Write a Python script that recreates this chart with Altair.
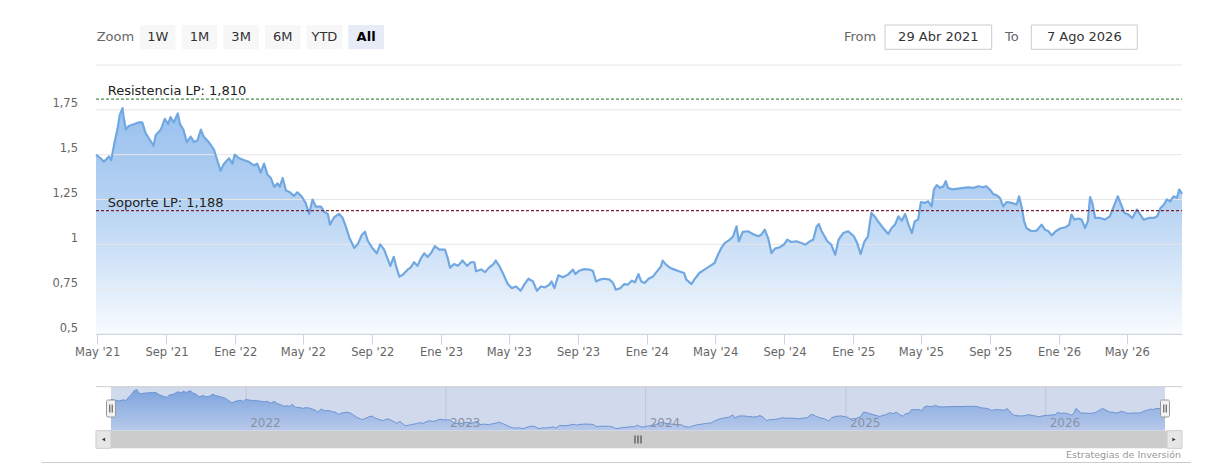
import json
import altair as alt
import pandas as pd

# ---------------- data ----------------
D2021 = ["04-29", "05-07", "05-13", "05-22", "05-26", "06-01", "06-06", "06-10", "06-15", "06-17",
         "06-21", "06-26", "07-05", "07-14", "07-20", "07-26", "08-01", "08-09", "08-13", "08-22",
         "08-29", "09-04", "09-08", "09-14", "09-21", "09-25", "10-01", "10-07", "10-14", "10-20",
         "10-26", "11-01", "11-06", "11-15", "11-24", "11-30", "12-06", "12-12", "12-21", "12-27", "12-31"]
V2021 = [1.50, 1.48, 1.46, 1.49, 1.47, 1.57, 1.64, 1.72, 1.76, 1.71,
         1.64, 1.66, 1.67, 1.68, 1.68, 1.62, 1.59, 1.55, 1.61, 1.64,
         1.70, 1.67, 1.71, 1.68, 1.73, 1.67, 1.64, 1.57, 1.60, 1.57,
         1.58, 1.64, 1.60, 1.57, 1.53, 1.47, 1.41, 1.45, 1.48, 1.45, 1.50]

D2022 = ["01-08", "01-16", "01-25", "02-03", "02-09", "02-15", "02-21", "02-27", "03-05", "03-11",
         "03-17", "03-21", "03-26", "04-01", "04-08", "04-15", "04-21", "04-28", "05-06", "05-12",
         "05-18", "05-24", "06-02", "06-08", "06-14", "06-18", "06-25", "07-04", "07-10", "07-16",
         "07-22", "07-31", "08-06", "08-13", "08-19", "08-24", "09-01", "09-09", "09-15", "09-22",
         "09-28", "10-03", "10-09", "10-13", "10-19", "10-25", "11-03", "11-08", "11-14", "11-20",
         "11-26", "12-02", "12-08", "12-14", "12-21", "12-29"]
V2022 = [1.48, 1.47, 1.46, 1.44, 1.45, 1.40, 1.45, 1.39, 1.37, 1.32,
         1.34, 1.32, 1.37, 1.30, 1.29, 1.27, 1.29, 1.27, 1.23, 1.17,
         1.25, 1.21, 1.21, 1.18, 1.17, 1.11, 1.15, 1.17, 1.15, 1.10,
         1.04, 0.98, 1.00, 1.05, 1.07, 1.02, 0.98, 0.95, 1.00, 0.97,
         0.92, 0.88, 0.93, 0.88, 0.82, 0.83, 0.86, 0.87, 0.90, 0.88,
         0.92, 0.95, 0.93, 0.95, 0.99, 0.97]

D2023 = ["01-08", "01-13", "01-17", "01-24", "01-31", "02-08", "02-16", "02-23", "03-01", "03-04",
         "03-13", "03-20", "03-27", "04-04", "04-08", "04-14", "04-22", "04-29", "05-06", "05-14",
         "05-22", "05-29", "06-05", "06-13", "06-20", "06-27", "07-04", "07-12", "07-16", "07-21",
         "07-28", "08-05", "08-14", "08-23", "08-27", "09-03", "09-12", "09-21", "09-27", "10-03",
         "10-09", "10-18", "10-27", "11-02", "11-07", "11-15", "11-22", "11-28", "12-05", "12-11",
         "12-17", "12-22", "12-28"]
V2023 = [0.97, 0.92, 0.87, 0.89, 0.88, 0.91, 0.88, 0.90, 0.90, 0.85,
         0.86, 0.845, 0.87, 0.89, 0.91, 0.88, 0.83, 0.78, 0.756, 0.765,
         0.741, 0.778, 0.808, 0.793, 0.741, 0.765, 0.76, 0.775, 0.793, 0.756,
         0.827, 0.816, 0.831, 0.859, 0.834, 0.853, 0.862, 0.859, 0.853, 0.793,
         0.803, 0.808, 0.803, 0.784, 0.747, 0.756, 0.778, 0.775, 0.797, 0.789,
         0.834, 0.793, 0.784]

D2024 = ["01-04", "01-12", "01-19", "01-26", "01-29", "02-04", "02-12", "02-19", "02-28", "03-07",
         "03-11", "03-20", "03-25", "04-03", "04-12", "04-21", "04-30", "05-06", "05-12", "05-18",
         "05-27", "06-02", "06-08", "06-12", "06-19", "06-28", "07-07", "07-16", "07-22", "07-28",
         "08-03", "08-09", "08-15", "08-23", "08-31", "09-06", "09-13", "09-22", "10-01", "10-08",
         "10-16", "10-22", "10-28", "11-01", "11-06", "11-11", "11-16", "11-23", "11-30", "12-06",
         "12-14", "12-23"]
V2024 = [0.808, 0.821, 0.849, 0.877, 0.909, 0.887, 0.868, 0.859, 0.849, 0.840,
         0.803, 0.778, 0.803, 0.840, 0.859, 0.877, 0.896, 0.942, 0.980, 1.007,
         1.026, 1.045, 1.100, 1.017, 1.069, 1.073, 1.058, 1.045, 1.054, 1.082,
         1.035, 0.951, 0.976, 0.983, 0.998, 1.026, 1.013, 1.017, 1.007, 0.998,
         1.017, 1.026, 1.100, 1.113, 1.073, 1.045, 1.017, 0.998, 0.942, 1.026,
         1.063, 1.073]

D2025 = ["01-02", "01-08", "01-14", "01-21", "01-27", "02-02", "02-08", "02-14", "02-23", "03-04",
         "03-10", "03-16", "03-22", "03-28", "04-03", "04-09", "04-15", "04-20", "04-26", "05-01",
         "05-08", "05-14", "05-20", "05-24", "05-29", "06-04", "06-10", "06-14", "06-18", "06-27",
         "07-06", "07-15", "07-24", "08-02", "08-11", "08-19", "08-25", "08-31", "09-06", "09-12",
         "09-18", "09-24", "09-30", "10-09", "10-18", "10-22", "10-27", "10-31", "11-04", "11-13",
         "11-22", "12-01", "12-07", "12-13", "12-19", "12-26"]
V2025 = [1.045, 1.007, 0.946, 1.017, 1.045, 1.175, 1.156, 1.128, 1.091, 1.058,
         1.091, 1.110, 1.156, 1.132, 1.169, 1.110, 1.063, 1.128, 1.138, 1.236,
         1.231, 1.240, 1.212, 1.306, 1.330, 1.315, 1.324, 1.352, 1.315, 1.306,
         1.311, 1.315, 1.318, 1.315, 1.324, 1.318, 1.324, 1.306, 1.281, 1.274,
         1.259, 1.212, 1.236, 1.231, 1.222, 1.268, 1.203, 1.128, 1.091, 1.073,
         1.076, 1.110, 1.082, 1.073, 1.050, 1.073]

D2026 = ["01-03", "01-12", "01-19", "01-23", "01-28", "02-04", "02-10", "02-16", "02-21", "02-25",
         "03-01", "03-06", "03-15", "03-23", "04-01", "04-07", "04-15", "04-21", "04-27", "05-04",
         "05-11", "05-19", "05-25", "05-31", "06-09", "06-18", "06-24", "06-30", "07-06", "07-11",
         "07-17", "07-23", "07-29", "08-02", "08-07"]
V2026 = [1.088, 1.095, 1.110, 1.166, 1.138, 1.144, 1.138, 1.091, 1.128, 1.263,
         1.231, 1.147, 1.147, 1.138, 1.156, 1.203, 1.268, 1.222, 1.175, 1.166,
         1.147, 1.194, 1.166, 1.138, 1.147, 1.147, 1.156, 1.203, 1.222, 1.250,
         1.240, 1.268, 1.259, 1.306, 1.281]

X_TICK_DATES = ["2021-05-01", "2021-09-01", "2022-01-01", "2022-05-01", "2022-09-01", "2023-01-01",
                "2023-05-01", "2023-09-01", "2024-01-01", "2024-05-01", "2024-09-01", "2025-01-01",
                "2025-05-01", "2025-09-01", "2026-01-01", "2026-05-01"]
X_TICK_LABELS = ["May '21", "Sep '21", "Ene '22", "May '22", "Sep '22", "Ene '23", "May '23", "Sep '23",
                 "Ene '24", "May '24", "Sep '24", "Ene '25", "May '25", "Sep '25", "Ene '26", "May '26"]
Y_TICKS = [0.5, 0.75, 1.0, 1.25, 1.5, 1.75]
Y_TICK_LABELS = ["0,5", "0,75", "1", "1,25", "1,5", "1,75"]
Y_GRID = [0.5, 0.75, 1.0, 1.25, 1.5, 1.75, 2.0]
LEVEL_VALUES = [1.810, 1.188]
LEVEL_NAMES = ["Resistencia LP: 1,810", "Soporte LP: 1,188"]
LEVEL_KINDS = ["res", "sop"]
NAV_YEARS = ["2022-01-01", "2023-01-01", "2024-01-01", "2025-01-01", "2026-01-01"]
NAV_YEAR_LABELS = ["2022", "2023", "2024", "2025", "2026"]
ZOOM_BUTTONS = ["1W", "1M", "3M", "6M", "YTD", "All"]
RANGE_FROM = "29 Abr 2021"
RANGE_TO = "7 Ago 2026"
CREDIT = "Estrategias de Inversión"

# ---------------- build tables ----------------
rows = []
for yr, ds, vs in [(2021, D2021, V2021), (2022, D2022, V2022), (2023, D2023, V2023),
                   (2024, D2024, V2024), (2025, D2025, V2025), (2026, D2026, V2026)]:
    for d, v in zip(ds, vs):
        rows.append({"date": f"{yr}-{d}", "value": v})
df = pd.DataFrame(rows)

# ---------------- layout / style ----------------
W, H = 1086, 269
FONT = "DejaVu Sans"
ONE = pd.DataFrame({"k": [0]})


def dt(s):
    y, m, d = (int(p) for p in s.split("-"))
    return alt.DateTime(year=y, month=m, date=d)


X_DOMAIN = [dt("2021-04-29"), dt("2026-08-07")]
XS = alt.Scale(domain=X_DOMAIN, nice=False)
YS = alt.Scale(domain=[0.5, 2.0], nice=False, zero=False)
NAV_L, NAV_R, NAV_T, NAV_B = 15, 1069, 321.7, 365.7
NXS = alt.Scale(domain=X_DOMAIN, range=[NAV_L, NAV_R], nice=False)
NYS = alt.Scale(domain=[0.69, 1.83], range=[NAV_B, NAV_T], nice=False, zero=False)

x_keys = [s[:7] for s in X_TICK_DATES]
x_label_expr = f"{json.dumps(X_TICK_LABELS)}[indexof({json.dumps(x_keys)}, timeFormat(datum.value, '%Y-%m'))]"
y_keys = [f"{v:g}" for v in Y_TICKS]
y_label_expr = f"{json.dumps(Y_TICK_LABELS)}[indexof({json.dumps(y_keys)}, '' + datum.value)]"


def box(x0, x1, y0, y1, **kw):
    return alt.Chart(ONE).mark_rect(**kw).encode(
        x=alt.value(x0), x2=alt.value(x1), y=alt.value(y0), y2=alt.value(y1))


def hline(x0, x1, y, **kw):
    return alt.Chart(ONE).mark_rule(**kw).encode(x=alt.value(x0), x2=alt.value(x1), y=alt.value(y))


def vline(x, y0, y1, **kw):
    return alt.Chart(ONE).mark_rule(**kw).encode(x=alt.value(x), y=alt.value(y0), y2=alt.value(y1))


def label(x, y, txt, **kw):
    return alt.Chart(ONE).mark_text(font=FONT, **kw).encode(
        x=alt.value(x), y=alt.value(y), text=alt.value(txt))


# ---------------- main panel ----------------
area = alt.Chart(df).mark_area(
    color=alt.Gradient(gradient="linear", x1=0, x2=0, y1=0, y2=1,
                       stops=[alt.GradientStop(color="#98c0ee", offset=0),
                              alt.GradientStop(color="#b8d4f3", offset=0.45),
                              alt.GradientStop(color="#f8fbff", offset=1)])
).encode(
    x=alt.X("date:T", scale=XS, title=None,
            axis=alt.Axis(values=[dt(s) for s in X_TICK_DATES], labelExpr=x_label_expr,
                          grid=False, tickSize=10, tickColor="#ccd6eb", domainColor="#ccd6eb",
                          labelColor="#666666", labelFont=FONT, labelFontSize=11.5,
                          labelPadding=2, labelFlush=False, labelOverlap=False, zindex=1)),
    y=alt.Y("value:Q", scale=YS, title=None,
            axis=alt.Axis(values=Y_TICKS, labelExpr=y_label_expr, grid=False, domain=False,
                          ticks=False, labelPadding=18.5, labelOffset=-3,
                          labelBaseline="alphabetic", labelColor="#666666", labelFont=FONT,
                          labelFontSize=11.5)),
    y2=alt.datum(0.5),
)

grid = alt.Chart(pd.DataFrame({"g": Y_GRID})).mark_rule(color="#e6e6e6", strokeWidth=1).encode(
    y=alt.Y("g:Q", scale=YS, axis=None), x=alt.value(0), x2=alt.value(W))

line = alt.Chart(df).mark_line(color="#72a8e1", strokeWidth=2.2, strokeJoin="round").encode(
    x=alt.X("date:T", scale=XS, axis=None), y=alt.Y("value:Q", scale=YS, axis=None))

lv = pd.DataFrame({"level": LEVEL_VALUES, "name": LEVEL_NAMES, "kind": LEVEL_KINDS})
level_rules = alt.Chart(lv).mark_rule(strokeDash=[3, 2], strokeWidth=1.2).encode(
    y=alt.Y("level:Q", scale=YS, axis=None), x=alt.value(0), x2=alt.value(W),
    color=alt.Color("kind:N", scale=alt.Scale(domain=LEVEL_KINDS, range=["#4f8f4f", "#7b2232"]),
                    legend=None))
level_text = alt.Chart(lv).mark_text(align="left", baseline="alphabetic", dy=-4, font=FONT,
                                     fontSize=13, color="#222222").encode(
    y=alt.Y("level:Q", scale=YS, axis=None), x=alt.value(11.7), text="name:N")

# ---------------- navigator ----------------
ny = pd.DataFrame({"year": NAV_YEARS, "lab": NAV_YEAR_LABELS})
nav_grid = alt.Chart(ny).mark_rule(color="#e2e2e2", strokeWidth=1).encode(
    x=alt.X("year:T", scale=NXS, axis=None), y=alt.value(NAV_T), y2=alt.value(NAV_B))
nav_area = alt.Chart(df).mark_area(
    color=alt.Gradient(gradient="linear", x1=0, x2=0, y1=0, y2=1,
                       stops=[alt.GradientStop(color="#86b2ea", offset=0),
                              alt.GradientStop(color="#dbe7fb", offset=1)])
).encode(x=alt.X("date:T", scale=NXS, axis=None), y=alt.Y("value:Q", scale=NYS, axis=None),
         y2=alt.datum(0.69))
nav_line = alt.Chart(df).mark_line(color="#6f9ad8", strokeWidth=1).encode(
    x=alt.X("date:T", scale=NXS, axis=None), y=alt.Y("value:Q", scale=NYS, axis=None))
nav_text = alt.Chart(ny).mark_text(align="left", baseline="alphabetic", dx=4, font=FONT,
                                   fontSize=12, color="#999999").encode(
    x=alt.X("year:T", scale=NXS, axis=None), y=alt.value(362.3), text="lab:N")
nav_mask = box(NAV_L, NAV_R, NAV_T, NAV_B, color="#6685c2", opacity=0.3)
nav_outline = hline(0, W, NAV_T, color="#cccccc", strokeWidth=1)

handles = []
for cx in (NAV_L, NAV_R):
    handles.append(box(cx - 4.5, cx + 4.5, 335, 352, fill="#f2f2f2", stroke="#999999",
                       strokeWidth=1, cornerRadius=1.5))
    handles.append(vline(cx - 1.2, 339.5, 347.5, color="#444444", strokeWidth=1))
    handles.append(vline(cx + 1.2, 339.5, 347.5, color="#444444", strokeWidth=1))

# scrollbar
SB_T, SB_B = 365.7, 383.3
scroll = [
    box(0, W, SB_T, SB_B, color="#f2f2f2"),
    box(NAV_L, NAV_R + 2, SB_T, SB_B, color="#cccccc"),
    box(0, NAV_L, SB_T, SB_B, fill="#e6e6e6", stroke="#cccccc", strokeWidth=1),
    box(NAV_R + 2, W, SB_T, SB_B, fill="#e6e6e6", stroke="#cccccc", strokeWidth=1),
    alt.Chart(ONE).mark_point(shape="triangle-left", filled=True, size=14, color="#333333",
                              opacity=1).encode(x=alt.value(7.5), y=alt.value(374.5)),
    alt.Chart(ONE).mark_point(shape="triangle-right", filled=True, size=14, color="#333333",
                              opacity=1).encode(x=alt.value(W - 8), y=alt.value(374.5)),
]
grip_c = (NAV_L + NAV_R) / 2
for off in (-3, 0, 3):
    scroll.append(vline(grip_c + off, 370.5, 378.5, color="#333333", strokeWidth=1))

# ---------------- header (range selector) ----------------
BTN_Y0, BTN_Y1, BTN_MID = -40, -15.7, -28.3
btn_df = pd.DataFrame({"lab": ZOOM_BUTTONS, "i": list(range(len(ZOOM_BUTTONS))),
                       "sel": [b == "All" for b in ZOOM_BUTTONS]})
btn_rects = alt.Chart(btn_df).transform_calculate(
    bx="44 + datum.i * 41.66", bx2="44 + datum.i * 41.66 + 35.6"
).mark_rect().encode(
    x=alt.X("bx:Q", scale=None), x2="bx2:Q", y=alt.value(BTN_Y0), y2=alt.value(BTN_Y1),
    color=alt.condition("datum.sel", alt.value("#e6ebf5"), alt.value("#f7f7f7")))
btn_text = alt.Chart(btn_df).transform_filter("!datum.sel").transform_calculate(
    bc="44 + datum.i * 41.66 + 17.8"
).mark_text(font=FONT, fontSize=13, baseline="middle", align="center", color="#333333").encode(
    x=alt.X("bc:Q", scale=None), y=alt.value(BTN_MID), text="lab:N")
btn_text_sel = alt.Chart(btn_df).transform_filter("datum.sel").transform_calculate(
    bc="44 + datum.i * 41.66 + 17.8"
).mark_text(font=FONT, fontSize=13, baseline="middle", align="center", color="#000000",
            fontWeight="bold").encode(
    x=alt.X("bc:Q", scale=None), y=alt.value(BTN_MID), text="lab:N")

header = [
    label(0.7, BTN_MID, "Zoom", fontSize=13, align="left", baseline="middle", color="#666666"),
    btn_rects, btn_text, btn_text_sel,
    label(748, BTN_MID, "From", fontSize=13, align="left", baseline="middle", color="#666666"),
    box(789, 895.7, -40, -15.7, fill="#ffffff", stroke="#cccccc", strokeWidth=1),
    label(842.3, BTN_MID, RANGE_FROM, fontSize=13, align="center", baseline="middle", color="#333333"),
    label(909, BTN_MID, "To", fontSize=13, align="left", baseline="middle", color="#666666"),
    box(935.3, 1041.3, -40, -15.7, fill="#ffffff", stroke="#cccccc", strokeWidth=1),
    label(988.3, BTN_MID, RANGE_TO, fontSize=13, align="center", baseline="middle", color="#333333"),
]

footer = [
    label(W - 1, 392.7, CREDIT, fontSize=9.5, align="right", baseline="alphabetic", color="#999999"),
    hline(-54, W + 9, 397.5, color="#cccccc", strokeWidth=1),
]

layers = ([area, grid, line, level_rules, level_text,
           nav_grid, nav_area, nav_line, nav_text, nav_mask, nav_outline]
          + handles + scroll + header + footer)

chart = alt.layer(*layers).resolve_scale(x="independent", y="independent").properties(
    width=W, height=H,
    autosize=alt.AutoSizeParams(type="none"),
    padding={"left": 88, "top": 57, "right": 12, "bottom": 130},
    background="#ffffff",
).configure_view(stroke=None)

chart.save("out.html", embed_options={"renderer": "svg", "actions": False})
